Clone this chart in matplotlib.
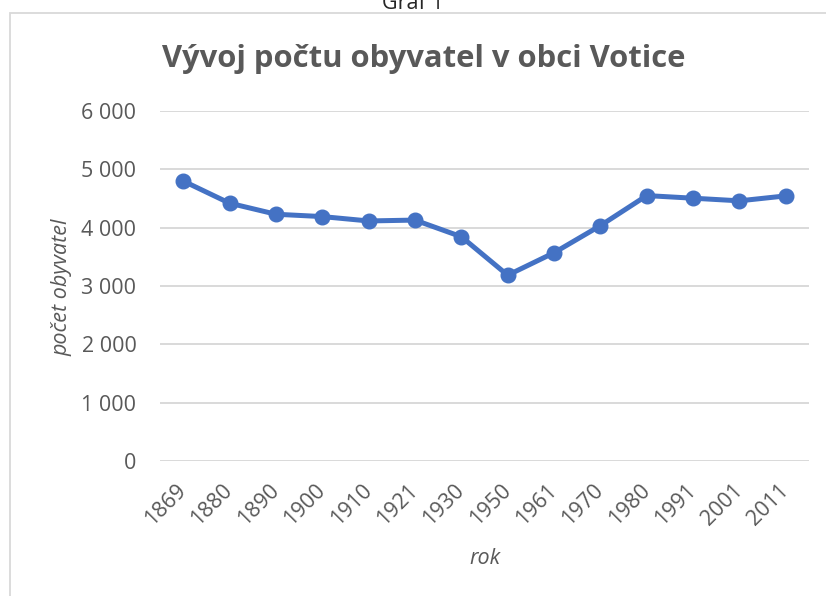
import matplotlib
matplotlib.use("Agg")
import matplotlib.pyplot as plt
from matplotlib.patches import Rectangle

years = ["1869", "1880", "1890", "1900", "1910", "1921", "1930", "1950",
         "1961", "1970", "1980", "1991", "2001", "2011"]
population = [4800, 4420, 4230, 4190, 4115, 4130, 3845, 3185,
              3570, 4035, 4550, 4505, 4460, 4545]
y_ticks = [0, 1000, 2000, 3000, 4000, 5000, 6000]
y_tick_labels = ["0", "1 000", "2 000", "3 000", "4 000", "5 000", "6 000"]

title = "Vývoj počtu obyvatel v obci Votice"
caption = "Graf 1"
x_label = "rok"
y_label = "počet obyvatel"

W, H = 826, 596
fig = plt.figure(figsize=(W / 100, H / 100), dpi=100)
fig.patch.set_facecolor("white")

# chart border
fig.add_artist(Rectangle((10 / W, -0.1), 1.2, 1 - 13 / H + 0.1,
                         transform=fig.transFigure, fill=False,
                         edgecolor="#D9D9D9", linewidth=1.3, clip_on=False))

ax = fig.add_axes([160 / W, (H - 461) / H, 649 / W, 350 / H])
x = list(range(len(years)))
ax.plot(x, population, color="#4472C4", linewidth=3.6, marker="o",
        markersize=10.5, solid_capstyle="round", zorder=3)
ax.set_xlim(-0.5, len(years) - 0.5)
ax.set_ylim(0, 6000)
ax.set_yticks(y_ticks)
ax.set_yticklabels(y_tick_labels, fontsize=15.5, color="#595959", family="Open Sans")
ax.set_xticks(x)
ax.set_xticklabels(years, fontsize=15.5, color="#595959", family="Open Sans",
                   rotation=45, ha="right", va="center", rotation_mode="anchor")
ax.tick_params(axis="y", length=0, pad=17)
ax.tick_params(axis="x", length=0, pad=19)
for s in ax.spines.values():
    s.set_visible(False)
ax.grid(axis="y", color="#D9D9D9", linewidth=1.4)
ax.set_axisbelow(True)

fig.text(62 / W, 1 - 287 / H, y_label, rotation=90, ha="center", va="center",
         fontsize=15.5, style="italic", color="#595959", family="Open Sans")
fig.text(485 / W, 1 - 559 / H, x_label, ha="center", va="center",
         fontsize=15.5, style="italic", color="#595959", family="Open Sans")
fig.text(424 / W, 1 - 67 / H, title, ha="center", va="baseline",
         fontsize=22.3, fontweight="bold", color="#595959", family="Open Sans")
fig.text(413 / W, 1 - 9 / H, caption, ha="center", va="baseline",
         fontsize=15.5, color="#262626", family="Open Sans")

fig.savefig("out.png", dpi=100)
